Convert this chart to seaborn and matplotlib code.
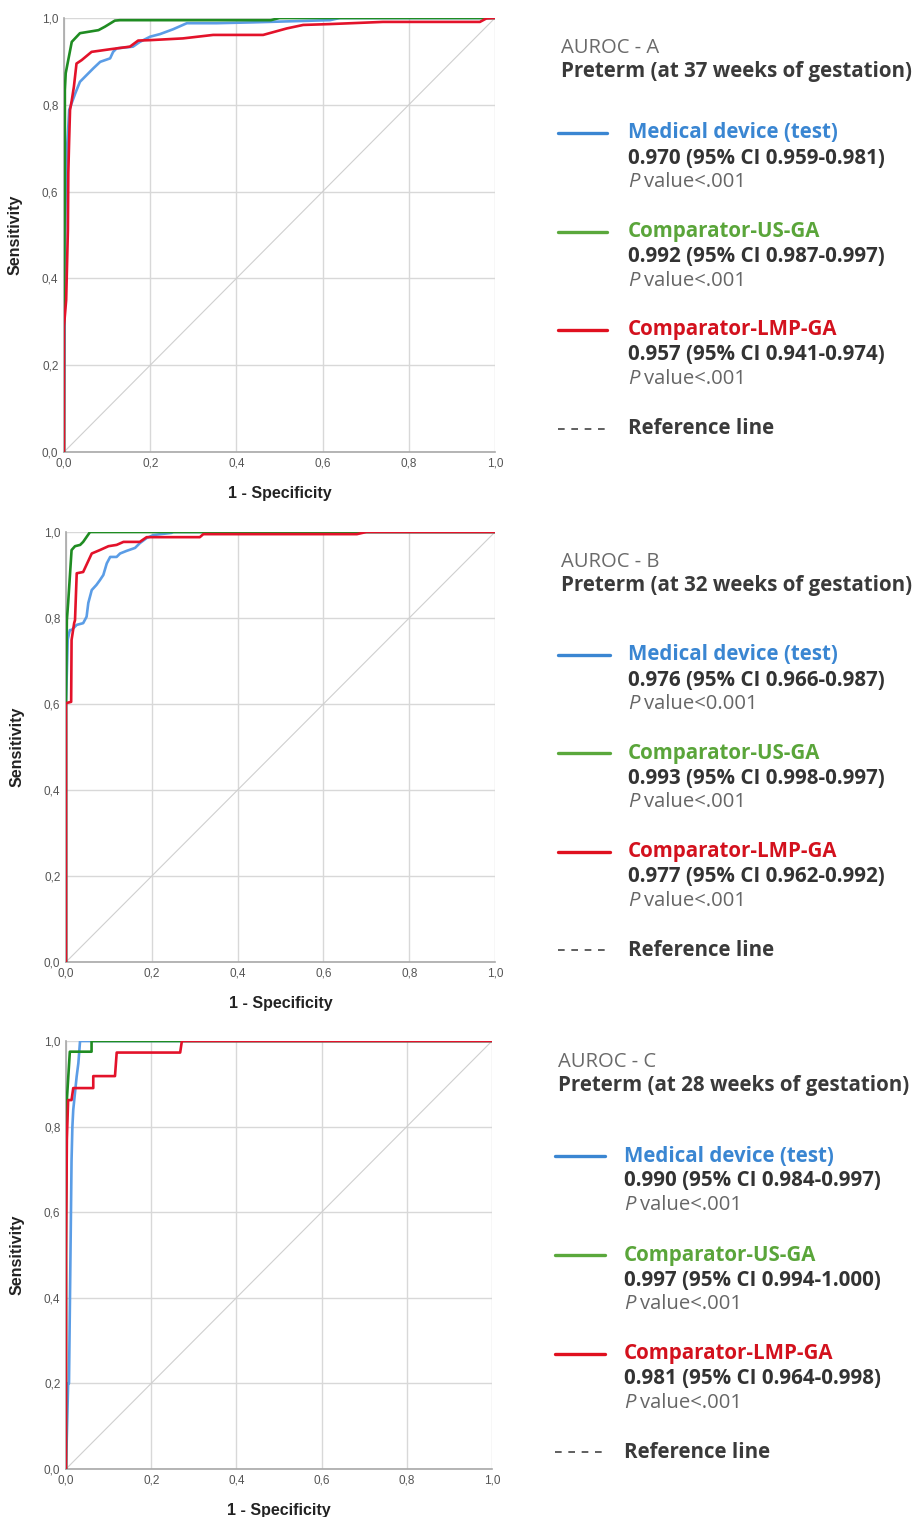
import numpy as np
import matplotlib
matplotlib.use("Agg")
import matplotlib.pyplot as plt
from matplotlib.lines import Line2D
import seaborn as sns

# ROC points (1 - specificity, sensitivity)
a_test_fpr = [0, 0.002, 0.004, 0.007, 0.010, 0.012, 0.026, 0.037, 0.053, 0.068, 0.084, 0.107, 0.114, 0.122, 0.160, 0.176, 0.200, 0.223, 0.253, 0.285, 0.354, 0.440, 0.617, 0.640, 1.0]
a_test_tpr = [0, 0.40, 0.60, 0.70, 0.75, 0.788, 0.826, 0.853, 0.869, 0.884, 0.899, 0.907, 0.922, 0.930, 0.934, 0.945, 0.957, 0.963, 0.974, 0.988, 0.988, 0.990, 0.995, 1.0, 1.0]
a_us_fpr = [0, 0, 0.002, 0.002, 0.004, 0.018, 0.037, 0.080, 0.095, 0.118, 0.130, 0.48, 0.50, 1.0]
a_us_tpr = [0, 0.35, 0.60, 0.834, 0.873, 0.945, 0.965, 0.972, 0.980, 0.994, 0.995, 0.995, 1.0, 1.0]
a_lmp_fpr = [0, 0, 0.005, 0.009, 0.010, 0.012, 0.014, 0.018, 0.023, 0.029, 0.041, 0.064, 0.107, 0.153, 0.172, 0.200, 0.276, 0.346, 0.462, 0.517, 0.555, 0.617, 0.740, 0.965, 0.980, 1.0]
a_lmp_tpr = [0, 0.29, 0.35, 0.51, 0.643, 0.72, 0.788, 0.81, 0.842, 0.895, 0.903, 0.922, 0.928, 0.934, 0.948, 0.949, 0.953, 0.961, 0.961, 0.976, 0.984, 0.986, 0.991, 0.991, 0.999, 1.0]

b_test_fpr = [0, 0, 0.004, 0.009, 0.013, 0.025, 0.040, 0.048, 0.052, 0.060, 0.071, 0.079, 0.087, 0.095, 0.103, 0.118, 0.126, 0.141, 0.161, 0.172, 0.188, 0.204, 0.246, 0.250, 1.0]
b_test_tpr = [0, 0.60, 0.75, 0.772, 0.772, 0.784, 0.788, 0.803, 0.835, 0.865, 0.877, 0.888, 0.900, 0.927, 0.942, 0.942, 0.950, 0.956, 0.963, 0.974, 0.986, 0.993, 0.998, 1.0, 1.0]
b_us_fpr = [0, 0, 0.002, 0.005, 0.013, 0.021, 0.033, 0.040, 0.056, 1.0]
b_us_tpr = [0, 0.60, 0.795, 0.835, 0.958, 0.967, 0.970, 0.977, 1.0, 1.0]
b_lmp_fpr = [0, 0, 0.012, 0.013, 0.019, 0.021, 0.025, 0.040, 0.060, 0.079, 0.099, 0.118, 0.134, 0.172, 0.188, 0.312, 0.320, 0.678, 0.700, 1.0]
b_lmp_tpr = [0, 0.602, 0.605, 0.749, 0.788, 0.795, 0.904, 0.907, 0.950, 0.958, 0.967, 0.970, 0.977, 0.977, 0.988, 0.988, 0.995, 0.995, 1.0, 1.0]

c_test_fpr = [0, 0.005, 0.007, 0.012, 0.013, 0.015, 0.017, 0.021, 0.025, 0.029, 0.033, 1.0]
c_test_tpr = [0, 0.20, 0.20, 0.63, 0.72, 0.80, 0.839, 0.878, 0.917, 0.948, 1.0, 1.0]
c_us_fpr = [0, 0, 0.002, 0.009, 0.060, 0.060, 1.0]
c_us_tpr = [0, 0.60, 0.862, 0.975, 0.975, 1.0, 1.0]
c_lmp_fpr = [0, 0, 0.002, 0.005, 0.013, 0.017, 0.064, 0.064, 0.115, 0.119, 0.268, 0.272, 1.0]
c_lmp_tpr = [0, 0.50, 0.769, 0.862, 0.862, 0.890, 0.890, 0.918, 0.918, 0.973, 0.973, 1.0, 1.0]

panel_letters = ["A", "B", "C"]
panel_weeks = ["37", "32", "28"]
series_names = ["Medical device (test)", "Comparator-US-GA", "Comparator-LMP-GA"]
auc_text = [
    ["0.970 (95% CI 0.959-0.981)", "0.992 (95% CI 0.987-0.997)", "0.957 (95% CI 0.941-0.974)"],
    ["0.976 (95% CI 0.966-0.987)", "0.993 (95% CI 0.998-0.997)", "0.977 (95% CI 0.962-0.992)"],
    ["0.990 (95% CI 0.984-0.997)", "0.997 (95% CI 0.994-1.000)", "0.981 (95% CI 0.964-0.998)"],
]
p_text = [
    ["<.001", "<.001", "<.001"],
    ["<0.001", "<.001", "<.001"],
    ["<.001", "<.001", "<.001"],
]
ticks = [0, 0.2, 0.4, 0.6, 0.8, 1.0]
tick_labels = ["0,0", "0,2", "0,4", "0,6", "0,8", "1,0"]

curves = [
    [(a_test_fpr, a_test_tpr), (a_us_fpr, a_us_tpr), (a_lmp_fpr, a_lmp_tpr)],
    [(b_test_fpr, b_test_tpr), (b_us_fpr, b_us_tpr), (b_lmp_fpr, b_lmp_tpr)],
    [(c_test_fpr, c_test_tpr), (c_us_fpr, c_us_tpr), (c_lmp_fpr, c_lmp_tpr)],
]

curve_colors = ["#5b9de6", "#1f8c22", "#e3122a"]
legend_line_colors = ["#3a86d2", "#5aa83c", "#e0101f"]
label_colors = ["#3a86d2", "#5aa53a", "#d3111d"]

W, H = 914, 1517
# axes box in pixels: left, right, top, bottom
boxes = [(64, 495, 18, 452), (66, 495, 532, 962), (66, 492, 1041, 1469)]
# legend layout: title x, line x0, line x1, text x, title y, block ys, ref y
legend_pos = [
    (561, 558, 607, 628, 48, [133, 232, 330], 429),
    (561, 558, 610, 628, 562, [655, 753, 852], 950),
    (558, 555, 605, 624, 1062, [1156, 1255, 1354], 1452),
]

sns.set_style("white")
plt.rcParams["font.family"] = ["Liberation Sans", "DejaVu Sans"]

fig = plt.figure(figsize=(W / 100, H / 100), dpi=100)


def fx(px):
    return px / W


def fy(py):
    return 1 - py / H


LEG_FONT = ["Open Sans", "DejaVu Sans"]
FS = 14.6   # regular legend text
FSB = 14.8  # bold legend text
renderer = fig.canvas.get_renderer()

for i in range(3):
    l, r, t, b = boxes[i]
    ax = fig.add_axes([fx(l), fy(b), (r - l) / W, (b - t) / H])
    ax.plot([0, 1], [0, 1], color="#cfcfcf", lw=0.8, zorder=1)
    for k, (xs, ys) in enumerate(curves[i]):
        sns.lineplot(x=xs, y=ys, estimator=None, sort=False, color=curve_colors[k],
                     lw=1.9, ax=ax, zorder=3)
    ax.set_xlim(0, 1)
    ax.set_ylim(0, 1)
    ax.set_xticks(ticks)
    ax.set_yticks(ticks)
    ax.set_xticklabels(tick_labels)
    ax.set_yticklabels(tick_labels)
    ax.tick_params(length=0, labelsize=8.5, labelcolor="#555555", pad=4)
    ax.grid(True, color="#d8d8d8", lw=1)
    for s in ["top", "right"]:
        ax.spines[s].set_visible(False)
    for s in ["left", "bottom"]:
        ax.spines[s].set_color("#a8a8a8")
        ax.spines[s].set_linewidth(1.2)
    ax.set_xlabel("1 - Specificity", fontsize=11.5, fontweight="bold", color="#222222", labelpad=12)
    ax.set_ylabel("Sensitivity", fontsize=11.5, fontweight="bold", color="#222222", labelpad=14)

    tx, lx0, lx1, txt_x, ty, block_ys, ref_y = legend_pos[i]
    fig.text(fx(tx), fy(ty), "AUROC - " + panel_letters[i], fontsize=FS, color="#6a6a6a",
             family=LEG_FONT, va="center", ha="left")
    fig.text(fx(tx), fy(ty + 24), "Preterm (at " + panel_weeks[i] + " weeks of gestation)",
             fontsize=FSB, color="#3a3a3a", fontweight="bold", family=LEG_FONT,
             va="center", ha="left")
    for k in range(3):
        y0 = block_ys[k]
        fig.add_artist(Line2D([fx(lx0), fx(lx1)], [fy(y0), fy(y0)], color=legend_line_colors[k],
                              lw=2.4, transform=fig.transFigure))
        fig.text(fx(txt_x), fy(y0), series_names[k], fontsize=FSB, color=label_colors[k],
                 fontweight="bold", family=LEG_FONT, va="center", ha="left")
        fig.text(fx(txt_x), fy(y0 + 25), auc_text[i][k], fontsize=FSB, color="#333333",
                 fontweight="bold", family=LEG_FONT, va="center", ha="left")
        pt = fig.text(fx(txt_x), fy(y0 + 49), "P", fontsize=FS, color="#666666",
                      style="italic", family=LEG_FONT, va="center", ha="left")
        pw = pt.get_window_extent(renderer=renderer).width
        fig.text(fx(txt_x + pw + 4), fy(y0 + 49), "value" + p_text[i][k], fontsize=FS,
                 color="#666666", family=LEG_FONT, va="center", ha="left")
    fig.add_artist(Line2D([fx(lx0), fx(lx1)], [fy(ref_y), fy(ref_y)], color="#444444",
                          lw=1.2, ls=(0, (4, 4)), transform=fig.transFigure))
    fig.text(fx(txt_x), fy(ref_y), "Reference line", fontsize=FSB, color="#3a3a3a",
             fontweight="bold", family=LEG_FONT, va="center", ha="left")

fig.savefig("out.png", dpi=100)
